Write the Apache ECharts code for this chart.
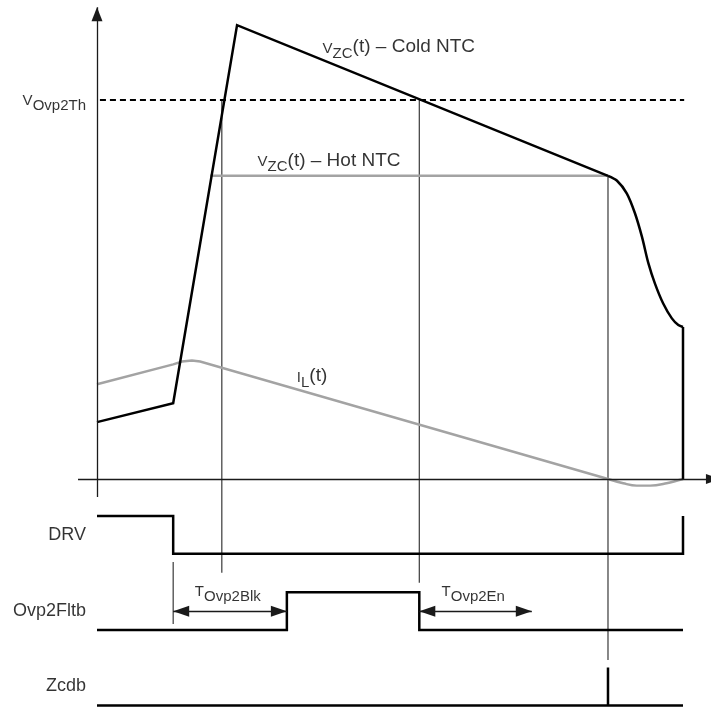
<!DOCTYPE html>
<html>
<head>
<meta charset="utf-8">
<title>Ovp2 timing</title>
<script src="https://cdn.jsdelivr.net/npm/echarts@6/dist/echarts.min.js"></script>
<style>
    html, body { margin: 0; padding: 0; background: #fff; }
    #main { width: 711px; height: 707px; }
</style>
</head>
<body>
<div id="main"></div>
<script>
// time in arbitrary units: 0 = y axis, 100 = end of the cycle
// analog values in arbitrary units, threshold = 80
var vOvp2Th = 80;
var threshT = [0.5, 100.2];

var coldT = [0, 13, 23.9, 87.2];
var coldV = [12, 16, 95.8, 64];
var coldTailT = [87.2, 88.7, 90.4, 91.8, 93, 94.1, 95.2, 96.6, 98.1, 99.2, 100];
var coldTailV = [64, 63, 60.3, 56.1, 51.1, 45.5, 41.3, 37.1, 33.9, 32.5, 32.1];
var coldDropT = [100, 100];
var coldDropV = [32.1, 0];

var hotT = [19.3, 87.2];
var hotV = [64, 64];

var ilT = [0, 13, 14.5, 16.2, 17.6, 87.2];
var ilV = [20, 24.2, 24.8, 25, 24.8, 0];
var ilTailT = [87.2, 89.8, 92.1, 94.4, 97.2, 100];
var ilTailV = [0, -0.9, -1.4, -1.4, -0.9, 0];

// digital signals: transition times and logic levels
var laneNames = ['DRV', 'Ovp2Fltb', 'Zcdb'];
var drvT = [0, 13, 13, 100, 100];
var drvLvl = [1, 1, 0, 0, 1];
var fltT = [0, 32.4, 32.4, 55, 55, 100];
var fltLvl = [0, 0, 1, 1, 0, 0];
var zcdT = [0, 87.2, 87.2, 87.2, 100];
var zcdLvl = [0, 0, 1, 0, 0];

// thin vertical markers (time, top, bottom)
var markerT = [13, 21.3, 55, 87.2];
var markerTop = [-17.5, 80, 80, 64];
var markerBottom = [-30.6, -19.8, -21.9, -38.2];

// timing dimensions
var dimFrom = [13, 55];
var dimTo = [32.4, 74.2];
var dimNames = ['Ovp2Blk', 'Ovp2En'];

// ---- layout ----
var X_MIN = -16.553, X_MAX = 104.778;
var Y_MIN = -48.127, Y_MAX = 101.108;
var laneBase = [-15.8, -31.9, -47.8];
var laneH = 8;
var dimV = -27.9;
var FONT = 'Liberation Sans, Arial, sans-serif';

var notes = [
    {t: 38.5, v: 88.1, text: '{m|V}{s|ZC}{r|(t) – Cold NTC}', align: 'left'},
    {t: 27.4, v: 64.2, text: '{m|V}{s|ZC}{r|(t) – Hot NTC}', align: 'left'},
    {t: -1.88, v: 77.2, text: '{m|V}{s|Ovp2Th}', align: 'right'},
    {t: 34.1, v: 18.7, text: '{m|I}{s|L}{r|(t)}', align: 'left'},
    {t: 16.7, v: -26.5, text: '{m|T}{s|' + dimNames[0] + '}', align: 'left'},
    {t: 58.8, v: -26.5, text: '{m|T}{s|' + dimNames[1] + '}', align: 'left'}
];

var TIMING = {
    chart: null,
    init: function(){
        var _this = this;
        _this.chart = echarts.init(document.getElementById('main'), null, {renderer: 'canvas'});
        _this.chart.setOption(_this.build_option());
    },
    pts: function(ts, vs){
        return ts.map(function(t, i){ return [t, vs[i]]; });
    },
    lane: function(ts, lv, i){
        return ts.map(function(t, k){ return [t, laneBase[i] + lv[k] * laneH]; });
    },
    trace: function(name, data, color, width, extra){
        var s = {
            name: name,
            type: 'line',
            data: data,
            symbol: 'none',
            silent: true,
            animation: false,
            lineStyle: {color: color, width: width, join: 'miter'}
        };
        for (var k in extra) s[k] = extra[k];
        return s;
    },
    arrow_end: function(coord){
        return {coord: coord, symbol: 'triangle', symbolSize: [11, 16], symbolOffset: [0, 8]};
    },
    build_option: function(){
        var _this = this;

        var markerData = [];
        markerT.forEach(function(t, i){
            markerData.push([t, markerTop[i]]);
            markerData.push([t, markerBottom[i]]);
            markerData.push('-');
        });

        var arrows = [
            // y axis
            [{coord: [0, -3.8], symbol: 'none'},
             {coord: [0, 99.6], symbol: 'triangle', symbolSize: [11, 14], symbolOffset: [0, 7]}],
            // x axis (arrow head runs off the right edge, as in the original)
            [{coord: [-3.24, 0], symbol: 'none'},
             {coord: [104.7, 0], symbol: 'triangle', symbolSize: [10, 14], symbolOffset: [0, -2.4]}]
        ];
        dimFrom.forEach(function(t, i){
            arrows.push([_this.arrow_end([t, dimV]), _this.arrow_end([dimTo[i], dimV])]);
        });

        var labelData = notes.map(function(n){
            return {
                value: [n.t, n.v],
                label: {formatter: n.text, align: n.align, verticalAlign: 'bottom'}
            };
        });
        laneNames.forEach(function(name, i){
            labelData.push({
                value: [-1.88, laneBase[i] + laneH / 2],
                label: {formatter: name, align: 'right', verticalAlign: 'middle', fontSize: 18}
            });
        });

        var series = [
            _this.trace('markers', markerData, '#3a3a3a', 1.2, {
                markLine: {
                    silent: true,
                    animation: false,
                    symbol: ['none', 'none'],
                    label: {show: false},
                    emphasis: {disabled: true},
                    lineStyle: {color: '#1a1a1a', width: 1.3, type: 'solid'},
                    data: arrows
                }
            }),
            _this.trace('threshold', _this.pts(threshT, [vOvp2Th, vOvp2Th]), '#000', 2.2,
                {lineStyle: {color: '#000', width: 2.2, type: [6, 4]}}),
            _this.trace('hot', _this.pts(hotT, hotV), '#a3a3a3', 2.4),
            _this.trace('il', _this.pts(ilT, ilV), '#a3a3a3', 2.4),
            _this.trace('il_tail', _this.pts(ilTailT, ilTailV), '#a3a3a3', 2.4, {smooth: 0.4}),
            _this.trace('cold', _this.pts(coldT, coldV), '#000', 2.5),
            _this.trace('cold_tail', _this.pts(coldTailT, coldTailV), '#000', 2.5, {smooth: 0.3}),
            _this.trace('cold_drop', _this.pts(coldDropT, coldDropV), '#000', 2.5),
            _this.trace('drv', _this.lane(drvT, drvLvl, 0), '#000', 2.5),
            _this.trace('ovp2fltb', _this.lane(fltT, fltLvl, 1), '#000', 2.5),
            _this.trace('zcdb', _this.lane(zcdT, zcdLvl, 2), '#000', 2.5),
            {
                name: 'labels',
                type: 'scatter',
                silent: true,
                animation: false,
                symbol: 'circle',
                symbolSize: 0,
                itemStyle: {color: 'rgba(0,0,0,0)'},
                label: {
                    show: true,
                    position: [0, 0],
                    color: '#000',
                    fontFamily: FONT,
                    fontSize: 18,
                    rich: {
                        m: {fontFamily: FONT, fontSize: 15, color: '#000', padding: [0, 0, 5, 0], verticalAlign: 'bottom'},
                        s: {fontFamily: FONT, fontSize: 15, color: '#000', verticalAlign: 'bottom'},
                        r: {fontFamily: FONT, fontSize: 19, color: '#000', padding: [0, 0, 5, 0], verticalAlign: 'bottom'}
                    }
                },
                data: labelData
            }
        ];

        return {
            animation: false,
            backgroundColor: '#fff',
            grid: {left: 0, right: 0, top: 0, bottom: 0},
            xAxis: {type: 'value', min: X_MIN, max: X_MAX, show: false},
            yAxis: {type: 'value', min: Y_MIN, max: Y_MAX, show: false},
            series: series
        };
    }
};

TIMING.init();
</script>
</body>
</html>
